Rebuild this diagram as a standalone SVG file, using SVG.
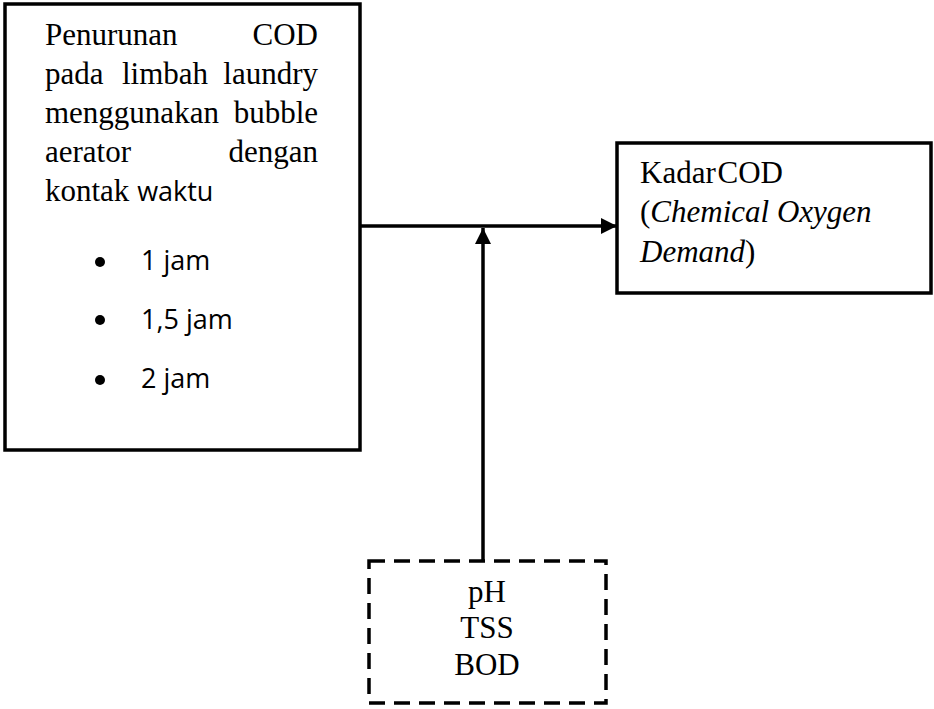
<svg xmlns="http://www.w3.org/2000/svg" width="934" height="709" viewBox="0 0 934 709">
<defs>
<style>
.box{fill:#fff;stroke:#000;stroke-width:3.5}
.dash{fill:none;stroke:#000;stroke-width:3.5;stroke-dasharray:16 9}
.t{font-family:"Liberation Serif","Times New Roman",serif;font-size:31px;fill:#000}
.s{font-family:"Open Sans","Liberation Sans",sans-serif;font-size:27px;fill:#000}
.c{stroke:#000;stroke-width:3.5;fill:none}
</style>
<marker id="ah" viewBox="0 0 10 10" refX="10" refY="5" markerWidth="4.6" markerHeight="5" markerUnits="strokeWidth" orient="auto">
<path d="M0,0 L10,5 L0,10 z" fill="#000"/>
</marker>
</defs>
<g id="connectors">
<line class="c" x1="360" y1="226" x2="617" y2="226" marker-end="url(#ah)"/>
<line class="c" x1="483" y1="561" x2="483" y2="228" marker-end="url(#ah)"/>
</g>
<g id="node-left">
<rect class="box" x="5" y="4" width="355" height="446"/>
<text class="t" x="45" y="45">Penurunan</text>
<text class="t" x="318" y="45" text-anchor="end">COD</text>
<text class="t" x="45" y="84">pada</text>
<text class="t" x="122" y="84">limbah</text>
<text class="t" x="318" y="84" text-anchor="end">laundry</text>
<text class="t" x="45" y="123">menggunakan</text>
<text class="t" x="318" y="123" text-anchor="end">bubble</text>
<text class="t" x="45" y="162">aerator</text>
<text class="t" x="318" y="162" text-anchor="end">dengan</text>
<text x="45" y="201"><tspan class="t">kontak </tspan><tspan class="s">waktu</tspan></text>
<circle cx="100" cy="262" r="5"/>
<circle cx="100" cy="320" r="5"/>
<circle cx="100" cy="380" r="5"/>
<text class="s" x="141" y="270">1 jam</text>
<text class="s" x="141" y="329">1,5 jam</text>
<text class="s" x="141" y="388">2 jam</text>
</g>
<g id="node-right">
<rect class="box" x="617" y="143" width="314" height="150"/>
<text class="t" x="640" y="183" word-spacing="-6">Kadar COD</text>
<text class="t" x="640" y="222">(<tspan font-style="italic">Chemical Oxygen</tspan></text>
<text class="t" x="640" y="262"><tspan font-style="italic">Demand</tspan>)</text>
</g>
<g id="node-bottom">
<rect class="dash" x="369" y="561" width="237" height="142"/>
<text class="t" x="487" y="602" text-anchor="middle">pH</text>
<text class="t" x="487" y="638" text-anchor="middle">TSS</text>
<text class="t" x="487" y="675" text-anchor="middle">BOD</text>
</g>
</svg>
